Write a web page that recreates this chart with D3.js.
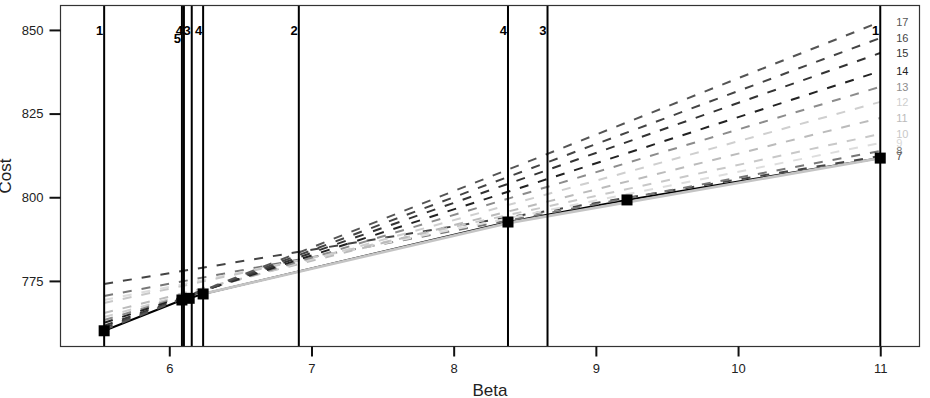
<!DOCTYPE html>
<html>
<head>
<meta charset="utf-8">
<script src="https://cdn.jsdelivr.net/npm/d3@7"></script>
<style>
  body { margin: 0; background: #fff; }
  text { font-family: "Liberation Sans", Arial, sans-serif; }
</style>
</head>
<body>
<div id="chart"></div>
<script>
var width = 930;
var height = 398;

// dashed cost lines, one per n, from the first to the last beta
var lineNames = ['7', '8', '9', '10', '11', '12', '13', '14', '15', '16', '17'];
var lineStartCost = [774.1, 770.5, 769.3, 768.4, 765.4, 764.2, 763.3, 762.5, 761.6, 761.0, 760.4];
var lineEndCost = [812.3, 813.8, 816.2, 818.9, 823.7, 828.5, 833.0, 837.7, 843.1, 847.6, 852.4];
var lineGrey = ['#444', '#777', '#ddd', '#c8c8c8', '#bbb', '#cfcfcf', '#8c8c8c', '#222', '#333', '#444', '#555'];
var betaStart = 5.542;
var betaEnd = 11;

// optimal path
var pathBeta = [5.542, 6.089, 6.14, 6.238, 8.382, 9.219, 11];
var pathCost = [760.1, 769.3, 769.8, 771.1, 792.6, 799.2, 811.7];

// light solid line
var greyBeta = [6.238, 8.382, 11];
var greyCost = [771.1, 792.3, 811.7];

// breakpoints
var breakBeta = [5.542, 6.089, 6.103, 6.158, 6.238, 6.911, 8.382, 8.66, 11];
var breakLabel = ['1', '5', '4', '3', '4', '2', '4', '3', '1'];

var xTicks = [6, 7, 8, 9, 10, 11];
var yTicks = [775, 800, 825, 850];

var svg = d3.select('#chart').append('svg')
    .attr('width', width)
    .attr('height', height);

var pLeft = 60.5, pRight = 919.5, pTop = 5.5, pBottom = 346.5;

var x = d3.scaleLinear().domain([5.235, 11.276]).range([pLeft, pRight]);
var y = d3.scaleLinear().domain([755.4, 857.3]).range([pBottom, pTop]);

var plot = svg.append('g');

function path(bs, cs) {
  return d3.line()
      .x(function (d) { return x(d[0]); })
      .y(function (d) { return y(d[1]); })(bs.map(function (b, i) { return [b, cs[i]]; }));
}

// black optimal path
plot.append('path')
    .attr('d', path(pathBeta, pathCost))
    .attr('fill', 'none')
    .attr('stroke', '#000')
    .attr('stroke-width', 2);

// grey solid line on top of it
plot.append('path')
    .attr('d', path(greyBeta, greyCost))
    .attr('fill', 'none')
    .attr('stroke', '#c4c4c4')
    .attr('stroke-width', 2.8);

// dashed lines
for (var i = 0; i < lineNames.length; i++) {
  plot.append('line')
      .attr('x1', x(betaStart))
      .attr('y1', y(lineStartCost[i]))
      .attr('x2', x(betaEnd))
      .attr('y2', y(lineEndCost[i]))
      .attr('stroke', lineGrey[i])
      .attr('stroke-width', 2)
      .attr('stroke-dasharray', '9,10');
  plot.append('text')
      .attr('x', x(betaEnd) + 16)
      .attr('y', y(lineEndCost[i]) + 4)
      .style('font-size', '11px')
      .style('fill', lineGrey[i] == '#ddd' ? '#d8d8d8' : lineGrey[i])
      .text(lineNames[i]);
}

// vertical breakpoint lines
plot.selectAll('.brk')
    .data(breakBeta)
    .enter().append('line')
    .attr('class', 'brk')
    .attr('x1', function (d) { return x(d); })
    .attr('x2', function (d) { return x(d); })
    .attr('y1', pTop)
    .attr('y2', pBottom)
    .attr('stroke', '#000')
    .attr('stroke-width', 2);

// squares
plot.selectAll('.sq')
    .data(pathBeta)
    .enter().append('rect')
    .attr('class', 'sq')
    .attr('x', function (d) { return x(d) - 5.5; })
    .attr('y', function (d, i) { return y(pathCost[i]) - 5.5; })
    .attr('width', 11)
    .attr('height', 11)
    .attr('fill', '#000');

// breakpoint labels, lowered when they crowd the next one
var lowered = breakBeta.map(function () { return false; });
for (var j = breakBeta.length - 2; j >= 0; j--) {
  if (x(breakBeta[j + 1]) - x(breakBeta[j]) < 5 && !lowered[j + 1]) lowered[j] = true;
}
breakBeta.forEach(function (b, j) {
  plot.append('text')
      .attr('x', x(b) - 1)
      .attr('y', y(850) + 5 + (lowered[j] ? 8 : 0))
      .style('font-size', '13px')
      .style('font-weight', 'bold')
      .style('text-anchor', 'end')
      .style('fill', '#000')
      .text(breakLabel[j]);
});

// box
svg.append('rect')
    .attr('x', pLeft)
    .attr('y', pTop)
    .attr('width', pRight - pLeft)
    .attr('height', pBottom - pTop)
    .attr('fill', 'none')
    .attr('stroke', '#333')
    .attr('stroke-width', 1.2);

// axes
var xAxis = svg.append('g')
    .attr('transform', 'translate(0,' + pBottom + ')')
    .call(d3.axisBottom(x).tickValues(xTicks).tickSize(10).tickPadding(7).tickFormat(d3.format('d')));
var yAxis = svg.append('g')
    .attr('transform', 'translate(' + pLeft + ',0)')
    .call(d3.axisLeft(y).tickValues(yTicks).tickSize(11).tickPadding(6).tickFormat(d3.format('d')));
[xAxis, yAxis].forEach(function (a) {
  a.select('.domain').remove();
  a.selectAll('.tick line').attr('stroke', '#111').attr('stroke-width', 2);
  a.selectAll('.tick text').style('font-size', '13px').style('fill', '#222')
      .style('font-family', '"Liberation Sans", Arial, sans-serif');
});

svg.append('text')
    .attr('x', (pLeft + pRight) / 2)
    .attr('y', 396)
    .style('font-size', '17px')
    .style('text-anchor', 'middle')
    .style('fill', '#222')
    .text('Beta');

svg.append('text')
    .attr('transform', 'translate(11,' + ((pTop + pBottom) / 2) + ') rotate(-90)')
    .style('font-size', '17px')
    .style('text-anchor', 'middle')
    .style('fill', '#222')
    .text('Cost');
</script>
</body>
</html>
